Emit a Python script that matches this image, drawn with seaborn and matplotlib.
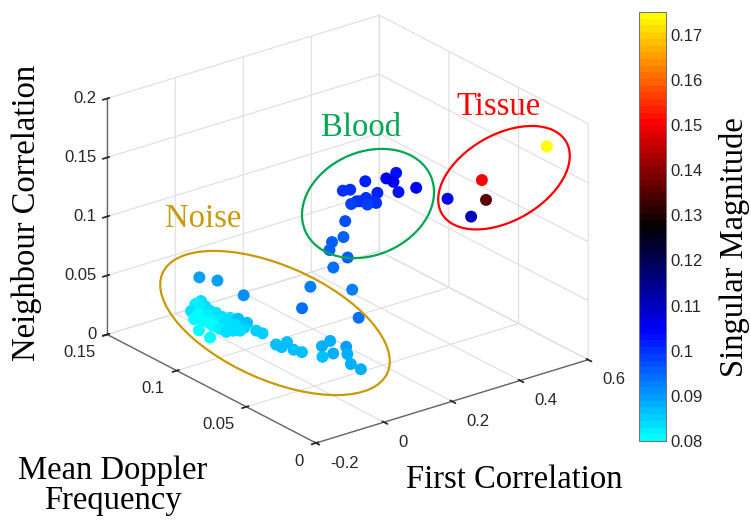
import numpy as np
import matplotlib
matplotlib.use("Agg")
import matplotlib.pyplot as plt
import seaborn as sns
from matplotlib.colors import ListedColormap
from matplotlib.patches import Ellipse
from mpl_toolkits.mplot3d import proj3d

# ---------------- data ----------------
noise_first = [0.005, 0.038, 0.008, 0.036, -0.008, 0.049, 0.021, 0.041, 0.016, -0.007,
               0.045, 0.020, -0.005, 0.042, 0.021, 0.037, 0.016, 0.053, 0.013, 0.038,
               0.065, 0.026, 0.044, -0.018, 0.059, -0.004, -0.004, 0.067,
               -0.049, -0.054, 0.056, 0.058,
               0.043, 0.072, 0.044, 0.057, 0.064,
               0.122, 0.156, 0.085, 0.117, 0.165, 0.141, 0.112, 0.112,
               0.006, 0.028, 0.024,
               0.178, 0.086, 0.245, 0.157]
noise_doppler = [0.1398, 0.1448, 0.1354, 0.1409, 0.1279, 0.1404, 0.1321, 0.1348, 0.1274, 0.1210,
                 0.1316, 0.1240, 0.1166, 0.1265, 0.1199, 0.1217, 0.1152, 0.1235, 0.1115, 0.1162,
                 0.1206, 0.1097, 0.1112, 0.1321, 0.1459, 0.1247, 0.1124, 0.1147,
                 0.1210, 0.1117, 0.1055, 0.1014,
                 0.0881, 0.0873, 0.0843, 0.0789, 0.0746,
                 0.0744, 0.0768, 0.0650, 0.0651, 0.0675, 0.0608, 0.0512, 0.0440,
                 0.1341, 0.1265, 0.1067,
                 0.0964, 0.0799, 0.0827, 0.0566]
noise_neigh = [0.008] * 45 + [0.04] * 7
noise_mag = [0.083, 0.082, 0.081, 0.082, 0.081, 0.083, 0.082, 0.083, 0.082, 0.081,
             0.083, 0.082, 0.082, 0.083, 0.083, 0.084, 0.083, 0.084, 0.083, 0.084,
             0.086, 0.084, 0.085, 0.081, 0.083, 0.081, 0.083, 0.086,
             0.080, 0.080, 0.085, 0.085,
             0.086, 0.086, 0.086, 0.086, 0.086,
             0.088, 0.088, 0.087, 0.088, 0.089, 0.088, 0.088, 0.088,
             0.090, 0.090, 0.091,
             0.092, 0.094, 0.093, 0.094]

blood_first = [0.205, 0.225, 0.176, 0.188, 0.206, 0.224,
               0.212, 0.244, 0.261, 0.319, 0.232, 0.238, 0.261, 0.240, 0.260, 0.300,
               0.262, 0.368, 0.406, 0.369, 0.342, 0.390]
blood_doppler = [0.0865, 0.0811, 0.0822, 0.0833, 0.0795, 0.0826,
                 0.0754, 0.0892, 0.0881, 0.0914, 0.0763, 0.0754, 0.0767, 0.0706, 0.0723, 0.0781,
                 0.0697, 0.0883, 0.0905, 0.0834, 0.0732, 0.0722]
blood_neigh = [0.06, 0.07, 0.08, 0.085, 0.09, 0.10] + [0.12] * 16
blood_mag = [0.094, 0.095, 0.096, 0.095, 0.096, 0.097,
             0.099, 0.100, 0.100, 0.101, 0.100, 0.100, 0.100, 0.099, 0.100, 0.102,
             0.100, 0.104, 0.103, 0.106, 0.103, 0.105]

tissue_first = [0.569, 0.455, 0.434, 0.409, 0.389]
tissue_doppler = [0.0221, 0.0409, 0.0328, 0.0543, 0.0325]
tissue_neigh = [0.17, 0.14, 0.13, 0.12, 0.12]
tissue_mag = [0.175, 0.151, 0.136, 0.104, 0.110]

x_ticks = [-0.2, 0, 0.2, 0.4, 0.6]
x_ticklabels = ["-0.2", "0", "0.2", "0.4", "0.6"]
y_ticks = [0, 0.05, 0.1, 0.15]
y_ticklabels = ["0", "0.05", "0.1", "0.15"]
z_ticks = [0, 0.05, 0.1, 0.15, 0.2]
z_ticklabels = ["0", "0.05", "0.1", "0.15", "0.2"]
c_ticks = [0.08, 0.09, 0.1, 0.11, 0.12, 0.13, 0.14, 0.15, 0.16, 0.17]
c_ticklabels = ["0.08", "0.09", "0.1", "0.11", "0.12", "0.13", "0.14", "0.15", "0.16", "0.17"]
cmin, cmax = 0.08, 0.175

# ---------------- style ----------------
sns.set_theme(style="white")
plt.rcParams["font.family"] = ["Liberation Sans", "DejaVu Sans"]
plt.rcParams["grid.color"] = "#dedede"
plt.rcParams["grid.linewidth"] = 0.8
SERIF = ["Liberation Serif", "DejaVu Serif"]
TXT = "#262626"

cmap = ListedColormap(sns.blend_palette(["#00ffff", "#0000ff", "#000000", "#ff0000", "#ffff00"],
                                        n_colors=64))

W, H = 751, 521
fig = plt.figure(figsize=(W / 100, H / 100), dpi=100)
fig.patch.set_facecolor("white")

side = 400
ax = fig.add_axes([(330 - side / 2) / W, (260 - side / 2) / H, side / W, side / H],
                  projection="3d")
ax.set_proj_type("ortho")
ax.view_init(elev=23.5, azim=-127.5)
ax.set_box_aspect((4, 4, 3))
ax.set_facecolor("none")

xs = noise_first + blood_first + tissue_first
ys = noise_doppler + blood_doppler + tissue_doppler
zs = noise_neigh + blood_neigh + tissue_neigh
cs = noise_mag + blood_mag + tissue_mag
sc = ax.scatter(xs, ys, zs, c=cs, cmap=cmap, vmin=cmin, vmax=cmax, s=74,
                depthshade=False, edgecolors="none", alpha=1)

ax.set_xlim(-0.2, 0.6)
ax.set_ylim(0, 0.15)
ax.set_zlim(0, 0.2)
ax.set_xticks(x_ticks)
ax.set_yticks(y_ticks)
ax.set_zticks(z_ticks)
# tick labels are drawn below as text anchored on the projected tick positions
ax.set_xticklabels([""] * len(x_ticks))
ax.set_yticklabels([""] * len(y_ticks))
ax.set_zticklabels([""] * len(z_ticks))
for a in (ax.xaxis, ax.yaxis, ax.zaxis):
    a.set_pane_color((1, 1, 1, 0))
    a.pane.set_edgecolor("#dedede")
    a.line.set_color("#666666")
    a.line.set_linewidth(1.0)
    a._axinfo["tick"]["color"] = "#666666"
    a._axinfo["grid"]["color"] = "#dedede"
    a._axinfo["grid"]["linewidth"] = 0.8
ax.grid(True)

# ---- fit projected box to target pixel layout ----
def px(x, y, z):
    u, v, _ = proj3d.proj_transform(x, y, z, ax.get_proj())
    return np.array(ax.transData.transform((u, v)))

target_front = np.array([316, H - 443])
for _ in range(3):
    fig.canvas.draw()
    L = px(-0.2, 0.15, 0)
    R = px(0.6, 0, 0)
    F = px(-0.2, 0, 0)
    k = (588 - 107) / (R[0] - L[0])
    bb = ax.get_position()
    s = bb.width * W * k
    c = np.array([(bb.x0 + bb.width / 2) * W, (bb.y0 + bb.height / 2) * H])
    c2 = target_front - k * (F - c)
    ax.set_position([(c2[0] - s / 2) / W, (c2[1] - s / 2) / H, s / W, s / H])
fig.canvas.draw()

# ---------------- colorbar ----------------
cax = fig.add_axes([639 / W, (H - 441) / H, 27 / W, 429 / H])
cb = fig.colorbar(sc, cax=cax)
cb.set_ticks(c_ticks)
cb.set_ticklabels(c_ticklabels)
cax.tick_params(direction="in", length=4, width=0.8, colors=TXT, labelsize=12, color="#444444")
cb.outline.set_edgecolor("#777777")
cb.outline.set_linewidth(0.8)

# ---------------- overlay annotations (pixel coords) ----------------
ov = fig.add_axes([0, 0, 1, 1], zorder=10)
ov.set_xlim(0, W)
ov.set_ylim(H, 0)
ov.axis("off")
ov.patch.set_alpha(0)

def scr(x, y, z):
    p = px(x, y, z)
    return p[0], H - p[1]

for t, lab in zip(x_ticks, x_ticklabels):
    u, v = scr(t, 0, 0)
    ov.text(u + 14, v + 20, lab, fontsize=12, color=TXT, ha="left", va="center")
for t, lab in zip(y_ticks, y_ticklabels):
    u, v = scr(-0.2, t, 0)
    ov.text(u - 12, v + 18, lab, fontsize=12, color=TXT, ha="right", va="center")
for t, lab in zip(z_ticks, z_ticklabels):
    u, v = scr(-0.2, 0.15, t)
    ov.text(u - 11, v, lab, fontsize=12, color=TXT, ha="right", va="center")

gold = "#c99a06"
green = "#00a651"
red = "#ff0000"
ov.add_patch(Ellipse((275, 323), 246, 114, angle=23.9, fill=False, ec=gold, lw=1.6))
ov.add_patch(Ellipse((368, 203.5), 137, 103, angle=-23.8, fill=False, ec=green, lw=1.6))
ov.add_patch(Ellipse((504, 177.7), 143.6, 86, angle=-30, fill=False, ec=red, lw=1.6))

ov.text(203, 219, "Noise", color=gold, family=SERIF, fontsize=23.5, ha="center", va="center")
ov.text(361, 128, "Blood", color=green, family=SERIF, fontsize=23.5, ha="center", va="center")
ov.text(499, 107, "Tissue", color=red, family=SERIF, fontsize=23.5, ha="center", va="center")

ov.text(27, 213, "Neighbour Correlation", rotation=90, family=SERIF, fontsize=23.5,
        color="black", ha="center", va="center")
ov.text(514, 480, "First Correlation", family=SERIF, fontsize=23.5, color="black",
        ha="center", va="center")
ov.text(113, 486, "Mean Doppler\nFrequency", family=SERIF, fontsize=23.5, color="black",
        ha="center", va="center", linespacing=1.0)
ov.text(734, 247, "Singular Magnitude", rotation=90, family=SERIF, fontsize=23.5,
        color="black", ha="center", va="center")

fig.savefig("out.png", dpi=100)
